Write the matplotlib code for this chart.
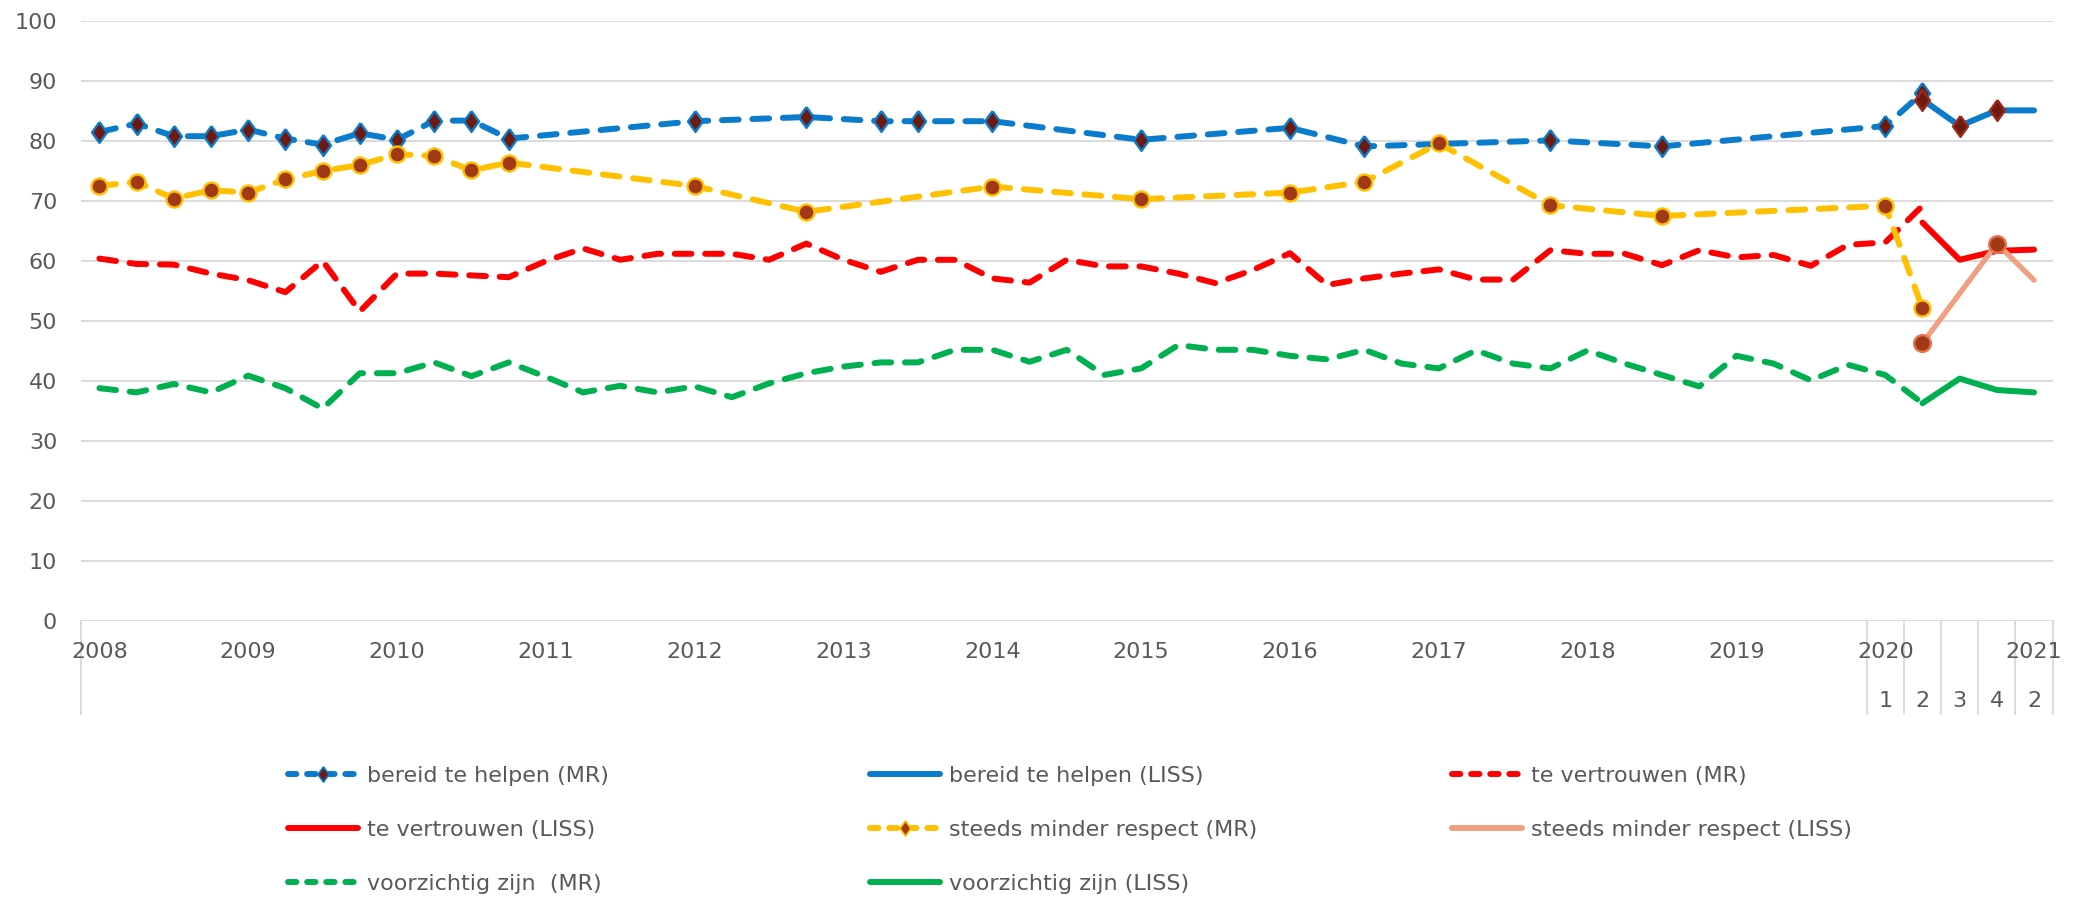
import matplotlib
matplotlib.use("Agg")
import matplotlib.pyplot as plt
import matplotlib.transforms as mtransforms
from matplotlib.lines import Line2D
from matplotlib.path import Path
import numpy as np

nan = np.nan

# categories: every quarter 2008-2020, then 2021 Q2 (2021 Q1 is missing)
quarters = [f"{y}-{q}" for y in range(2008, 2021) for q in range(1, 5)] + ["2021-2"]
year_labels = [str(y) for y in range(2008, 2021)] + ["2021"]
year_first_q = [f"{y}-1" for y in range(2008, 2021)] + ["2021-2"]
sub_labels = ["1", "2", "3", "4", "2"]
sub_q = ["2020-1", "2020-2", "2020-3", "2020-4", "2021-2"]

# bereid te helpen (MR)
blue_mr = [
    81.5, 82.9, 80.8, 80.8,   # 2008
    81.9, 80.4, 79.4, 81.3,   # 2009
    80.2, 83.4, 83.4, 80.4,   # 2010
    nan, nan, nan, nan,       # 2011
    83.3, nan, nan, 84.0,     # 2012
    nan, 83.3, 83.3, nan,     # 2013
    83.3, nan, nan, nan,      # 2014
    80.2, nan, nan, nan,      # 2015
    82.2, nan, 79.1, nan,     # 2016
    nan, nan, nan, 80.1,      # 2017
    nan, nan, 79.1, nan,      # 2018
    nan, nan, nan, nan,       # 2019
    82.5, 88.0, nan, nan,     # 2020
    nan,                      # 2021 Q2
]
# te vertrouwen (MR)
red_mr = [
    60.4, 59.5, 59.4, 57.9,
    56.8, 54.8, 60.0, 51.6,
    57.9, 57.9, 57.6, 57.3,
    60.0, 62.1, 60.2, 61.2,
    61.2, 61.2, 60.2, 62.9,
    60.2, 58.2, 60.2, 60.2,
    57.1, 56.4, 60.2, 59.1,
    59.1, 57.9, 56.3, 58.5,
    61.3, 56.0, 57.1, 57.9,
    58.6, 56.9, 56.9, 61.8,
    61.2, 61.2, 59.3, 61.8,
    60.6, 61.0, 59.2, 62.7,
    63.1, 69.2, nan, nan,
    nan,
]
# steeds minder respect (MR)
yellow_mr = [
    72.5, 73.2, 70.4, 71.8,
    71.4, 73.6, 75.0, 76.0,
    77.8, 77.5, 75.1, 76.4,
    nan, nan, nan, nan,
    72.5, nan, nan, 68.2,
    nan, nan, nan, nan,
    72.4, nan, nan, nan,
    70.3, nan, nan, nan,
    71.4, nan, 73.2, nan,
    79.6, nan, nan, 69.3,
    nan, nan, 67.5, nan,
    nan, nan, nan, nan,
    69.2, 52.1, nan, nan,
    nan,
]
# voorzichtig zijn (MR)
green_mr = [
    38.8, 38.1, 39.5, 38.1,
    40.9, 38.8, 35.4, 41.3,
    41.3, 43.1, 40.8, 43.1,
    40.7, 38.1, 39.2, 38.1,
    39.1, 37.3, 39.6, 41.3,
    42.4, 43.1, 43.1, 45.2,
    45.2, 43.2, 45.2, 41.0,
    42.1, 46.0, 45.2, 45.2,
    44.2, 43.6, 45.2, 42.9,
    42.1, 45.1, 42.9, 42.1,
    45.1, 42.9, 41.0, 39.1,
    44.2, 42.9, 40.1, 42.7,
    41.0, 36.3, nan, nan,
    nan,
]
# LISS: 2020 Q2, Q3, Q4, 2021 Q2
blue_liss = [nan] * 49 + [86.9, 82.5, 85.1, 85.1]
red_liss = [nan] * 49 + [66.4, 60.2, 61.7, 61.9]
salmon_liss = [nan] * 49 + [46.3, nan, 62.9, 56.8]
green_liss = [nan] * 49 + [36.3, 40.4, 38.5, 38.1]

c_blue = "#0A7CCB"
c_red = "#FF0000"
c_yellow = "#FFC000"
c_green = "#00B050"
c_salmon = "#F0A080"
c_text = "#595959"
c_grid = "#D9D9D9"

diamond = Path([(0, 1), (0.72, 0), (0, -1), (-0.72, 0), (0, 1)])

fig = plt.figure(figsize=(20.75, 8.97), dpi=100)
ax = fig.add_axes([80.8 / 2075, 1 - 621 / 897, (2052.7 - 80.8) / 2075, 600 / 897])
x = np.arange(len(quarters))


def draw(vals, color, dashed, lw=4.3, markevery=None, z=2, **kw):
    v = np.array(vals, dtype=float)
    ok = ~np.isnan(v)
    line, = ax.plot(x[ok], v[ok], color=color, lw=lw, markevery=markevery,
                    solid_capstyle="round", dash_capstyle="round", zorder=z, **kw)
    if dashed:
        line.set_dashes((2.8, 2.3))
    return line


draw(blue_mr, c_blue, True, marker=diamond, ms=15, mfc="#6E1A10", mec=c_blue, mew=1.7, z=3)
draw(blue_liss, c_blue, False, marker=diamond, ms=15, mfc="#6E1A10", mec="#9A2A1A",
     mew=1.7, markevery=[0, 1, 2], z=3)
draw(red_mr, c_red, True)
draw(red_liss, c_red, False)
draw(yellow_mr, c_yellow, True, marker="o", ms=11.5, mfc="#A03A16", mec=c_yellow, mew=1.7, z=4)
draw(salmon_liss, c_salmon, False, lw=3.8, marker="o", ms=12, mfc="#A03A16", mec="#E8704A",
     mew=1.7, markevery=[0, 1], z=4)
draw(green_mr, c_green, True)
draw(green_liss, c_green, False)

ax.set_xlim(-0.5, len(quarters) - 0.5)
ax.set_ylim(0, 100)
ax.set_yticks(range(0, 101, 10))
ax.set_xticks([])
ax.grid(axis="y", color=c_grid, lw=1.3)
ax.set_axisbelow(True)
for s in ax.spines.values():
    s.set_visible(False)
ax.tick_params(axis="y", length=0, pad=17, labelsize=16, labelcolor=c_text)

trans = mtransforms.blended_transform_factory(ax.transData, ax.transAxes)
for lab, q in zip(year_labels, year_first_q):
    ax.text(quarters.index(q), -0.052, lab, transform=trans, ha="center", va="center",
            fontsize=16, color=c_text)
for lab, q in zip(sub_labels, sub_q):
    ax.text(quarters.index(q), -0.133, lab, transform=trans, ha="center", va="center",
            fontsize=16, color=c_text)
seps = [-0.5] + [quarters.index(q) - 0.5 for q in sub_q] + [len(quarters) - 0.5]
for xs in seps:
    ax.plot([xs, xs], [0, -0.155], transform=trans, color=c_grid, lw=1.3, clip_on=False)

# legend, three columns like the original
def proxy(color, dashed, marker=None, mfc=None, mec=None, ms=11):
    h = Line2D([], [], color=color, lw=4.3, marker=marker, ms=ms, mfc=mfc, mec=mec, mew=1.2,
               solid_capstyle="round", dash_capstyle="round")
    if dashed:
        h.set_dashes((1.4, 1.8))
    return h


cols = [
    [(proxy(c_blue, True, diamond, "#6E1A10", c_blue), "bereid te helpen (MR)"),
     (proxy(c_red, False), "te vertrouwen (LISS)"),
     (proxy(c_green, True), "voorzichtig zijn  (MR)")],
    [(proxy(c_blue, False), "bereid te helpen (LISS)"),
     (proxy(c_yellow, True, diamond, "#A03A16", c_yellow), "steeds minder respect (MR)"),
     (proxy(c_green, False), "voorzichtig zijn (LISS)")],
    [(proxy(c_red, True), "te vertrouwen (MR)"),
     (proxy(c_salmon, False), "steeds minder respect (LISS)")],
]
col_x = [288, 870, 1452]
for cx, items in zip(col_x, cols):
    fig.legend([h for h, _ in items], [l for _, l in items], loc="upper left",
               bbox_to_anchor=(cx / 2075, 1 - 766 / 897), frameon=False, fontsize=16,
               labelcolor=c_text, handlelength=3.15, handletextpad=0.4, labelspacing=1.53,
               borderpad=0, borderaxespad=0)

fig.savefig("out.png", dpi=100)
